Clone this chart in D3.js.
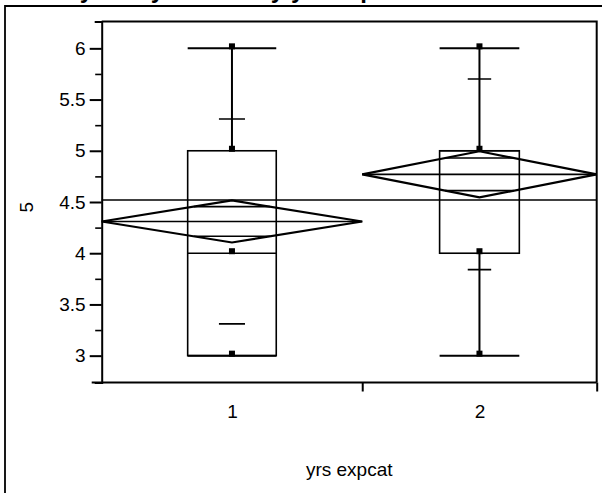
<!DOCTYPE html>
<html>
<head>
<meta charset="utf-8">
<script src="https://cdn.jsdelivr.net/npm/d3@7"></script>
<style>
body{margin:0;background:#fff;}
svg{display:block;font-family:"Liberation Sans",Arial,sans-serif;}
</style>
</head>
<body>
<div class="chart"></div>
<script>
// data
const groups = ["1", "2"];
const counts = [10, 9];
const means = [4.31, 4.77];
const ciHalf = [0.205, 0.225];
const stdDevs = [1.0, 0.93];
const q1 = [3, 4];
const medians = [4, 5];
const q3 = [5, 5];
const mins = [3, 3];
const maxs = [6, 6];
const points = [[3, 4, 5, 6], [3, 4, 5, 6]];
const grandMean = 4.52;
const yTicks = [3, 3.5, 4, 4.5, 5, 5.5, 6];
const yMinor = [3.25, 3.75, 4.25, 4.75, 5.25, 5.75];
const yTitle = "5";
const xTitle = "yrs expcat";
const title = "Oneway Analysis of 5 By yrs expcat";

const W = 602, H = 493;
const pLeft = 101.7, pRight = 596.7, pTop = 21.5, pBottom = 382.5;
const fs = 19;

const svg = d3.select(".chart")
    .append("svg")
    .attr("width", W)
    .attr("height", H);

svg.append("rect")
    .attr("width", W)
    .attr("height", H)
    .attr("fill", "#fff");

// title, cut off by the top of the page
svg.append("text")
    .attr("x", 1)
    .attr("y", -2)
    .attr("font-size", 24)
    .attr("font-weight", "bold")
    .text(title);

// outer frame
svg.append("path")
    .attr("d", `M5,${H + 2}V6H${W + 2}`)
    .attr("fill", "none")
    .attr("stroke", "#000")
    .attr("stroke-width", 1.8);

//Escalas

const total = d3.sum(counts);
const starts = Array.from(d3.cumsum([0].concat(counts))).slice(0, counts.length);

const x = d3.scaleLinear()
    .domain([0, total])
    .range([pLeft, pRight]);

const y = d3.scaleLinear()
    .domain([2.738, 6.262])
    .range([pBottom, pTop]);

const data = groups.map((g, i) => ({
    g: g,
    x0: x(starts[i]),
    x1: x(starts[i] + counts[i]),
    xc: x(starts[i] + counts[i] / 2),
    mean: means[i],
    ci: ciHalf[i],
    sd: stdDevs[i],
    q1: q1[i], med: medians[i], q3: q3[i],
    min: mins[i], max: maxs[i],
    pts: points[i]
}));

//Ejes

svg.append("g")
    .attr("transform", `translate(${pLeft},0)`)
    .call(d3.axisLeft(y).tickValues(yTicks).tickSize(12).tickSizeOuter(7).tickPadding(4).tickFormat(d3.format("")))
    .call(g => g.selectAll("text").attr("font-size", fs).attr("font-family", null).attr("fill", "#000"))
    .call(g => g.selectAll("line,path").attr("stroke", "#000").attr("stroke-width", 2));

svg.append("g")
    .attr("transform", `translate(${pLeft},0)`)
    .call(d3.axisLeft(y).tickValues(yMinor).tickSize(6.5).tickFormat(""))
    .call(g => g.select(".domain").remove())
    .call(g => g.selectAll("line").attr("stroke", "#000").attr("stroke-width", 1.6));

// x axis: ticks at group borders, labels at group centres
svg.append("g")
    .attr("transform", `translate(0,${pBottom})`)
    .call(d3.axisBottom(x).tickValues(starts.slice(1).concat([total])).tickSize(9).tickSizeOuter(0).tickFormat(""))
    .call(g => g.select(".domain").attr("d", `M${pLeft - 10},0H${pRight}`))
    .call(g => g.selectAll("line,path").attr("stroke", "#000").attr("stroke-width", 2));

svg.append("g")
    .attr("transform", `translate(0,${pBottom})`)
    .call(d3.axisBottom(x)
        .tickValues(data.map((d, i) => starts[i] + counts[i] / 2))
        .tickSize(0).tickPadding(22)
        .tickFormat((v, i) => groups[i]))
    .call(g => g.select(".domain").remove())
    .call(g => g.selectAll("text").attr("font-size", fs).attr("font-family", null).attr("fill", "#000"));

// top and right frame
svg.append("path")
    .attr("d", `M${pLeft},${pTop}H${pRight}V${pBottom}`)
    .attr("fill", "none")
    .attr("stroke", "#000")
    .attr("stroke-width", 2);

svg.append("text")
    .attr("transform", `translate(33,${y(4.45)}) rotate(-90)`)
    .attr("text-anchor", "middle")
    .attr("font-size", fs)
    .text(yTitle);

svg.append("text")
    .attr("x", (pLeft + pRight) / 2)
    .attr("y", 476)
    .attr("text-anchor", "middle")
    .attr("font-size", fs)
    .text(xTitle);

//Dibujar

const plot = svg.append("g")
    .attr("fill", "none")
    .attr("stroke", "#000");

// grand mean
plot.append("line")
    .attr("x1", pLeft).attr("x2", pRight)
    .attr("y1", y(grandMean)).attr("y2", y(grandMean))
    .attr("stroke-width", 1.6);

const grp = plot.selectAll(".grp")
    .data(data)
    .enter()
    .append("g")
    .attr("class", "grp");

const boxHalf = d => (d.x1 - d.x0) * 0.17;

// box
grp.append("rect")
    .attr("x", d => d.xc - boxHalf(d))
    .attr("width", d => boxHalf(d) * 2)
    .attr("y", d => y(d.q3))
    .attr("height", d => y(d.q1) - y(d.q3))
    .attr("stroke-width", 1.6);

grp.append("line")
    .attr("x1", d => d.xc - boxHalf(d)).attr("x2", d => d.xc + boxHalf(d))
    .attr("y1", d => y(d.med)).attr("y2", d => y(d.med))
    .attr("stroke-width", 1.6);

// whiskers
grp.append("path")
    .attr("d", d => `M${d.xc},${y(d.q3)}V${y(d.max)}M${d.xc},${y(d.q1)}V${y(d.min)}`)
    .attr("stroke-width", 2);

grp.append("path")
    .attr("d", d => `M${d.xc - boxHalf(d)},${y(d.max)}H${d.xc + boxHalf(d)}M${d.xc - boxHalf(d)},${y(d.min)}H${d.xc + boxHalf(d)}`)
    .attr("stroke-width", 2);

// mean +/- std dev
grp.append("path")
    .attr("d", d => {
        const h = (d.x1 - d.x0) * 0.05;
        return `M${d.xc - h},${y(d.mean + d.sd)}H${d.xc + h}M${d.xc - h},${y(d.mean - d.sd)}H${d.xc + h}`;
    })
    .attr("stroke-width", 1.6);

// means diamonds
grp.append("path")
    .attr("d", d => `M${d.x0},${y(d.mean)}L${d.xc},${y(d.mean + d.ci)}L${d.x1},${y(d.mean)}L${d.xc},${y(d.mean - d.ci)}Z`)
    .attr("stroke-width", 2.2)
    .attr("stroke-linejoin", "miter");

grp.append("line")
    .attr("x1", d => d.x0).attr("x2", d => d.x1)
    .attr("y1", d => y(d.mean)).attr("y2", d => y(d.mean))
    .attr("stroke-width", 1.6);

// overlap marks
grp.append("path")
    .attr("d", d => {
        const k = 1 / Math.SQRT2;
        const h = (d.x1 - d.x0) / 2 * (1 - k);
        return `M${d.xc - h},${y(d.mean + d.ci * k)}H${d.xc + h}M${d.xc - h},${y(d.mean - d.ci * k)}H${d.xc + h}`;
    })
    .attr("stroke-width", 1.6);

// points
grp.selectAll(".pt")
    .data(d => d.pts.map(v => ({ xc: d.xc, v: v })))
    .enter()
    .append("rect")
    .attr("class", "pt")
    .attr("x", d => d.xc - 3)
    .attr("y", d => y(d.v) - 5)
    .attr("width", 6)
    .attr("height", 6)
    .attr("fill", "#000")
    .attr("stroke", "none");
</script>
</body>
</html>
